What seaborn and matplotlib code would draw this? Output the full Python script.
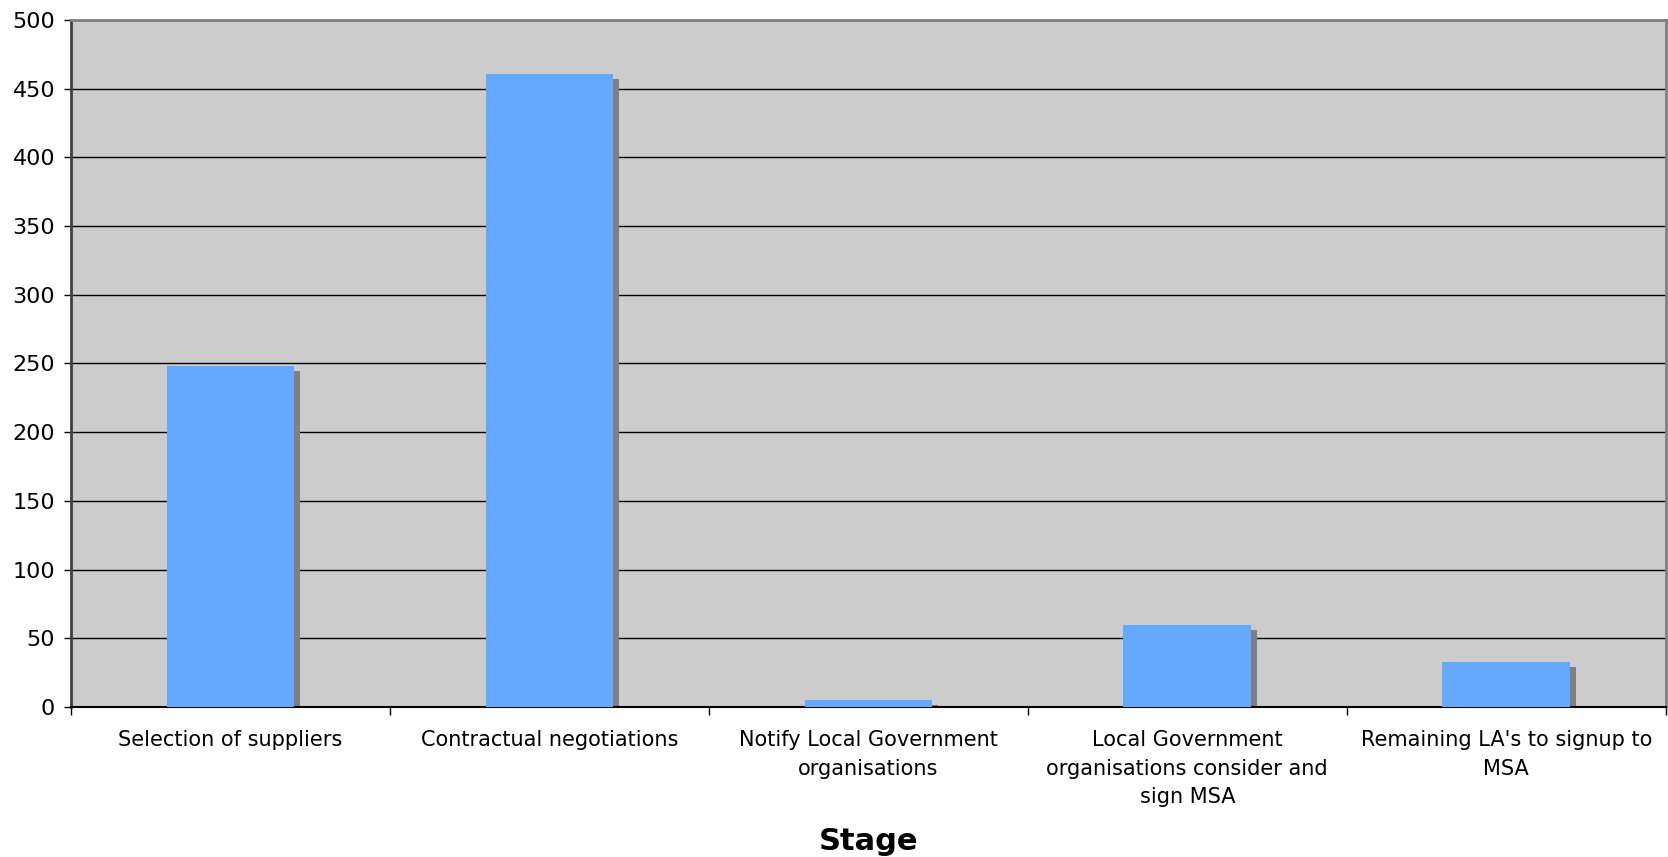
import pandas as pd
import seaborn as sns
import matplotlib
import matplotlib.pyplot as plt
import matplotlib.transforms as mtransforms
from matplotlib.ticker import FixedLocator
matplotlib.use('Agg')

stages = ['Selection of suppliers', 'Contractual negotiations',
          'Notify Local Government\norganisations',
          'Local Government\norganisations consider and\nsign MSA',
          "Remaining LA's to signup to\nMSA"]
days = [248, 461, 5, 60, 33]

df = pd.DataFrame({'Stage': stages, 'Days': days})

sns.set_style('white')
plt.rcParams['font.family'] = ['DejaVu Sans']
plt.rcParams['text.color'] = 'black'
plt.rcParams['xtick.color'] = 'black'
plt.rcParams['ytick.color'] = 'black'
plt.rcParams['axes.labelcolor'] = 'black'

fig = plt.figure(figsize=(16.68, 8.57), dpi=100)
ax = fig.add_axes([0.0426, 0.175, 0.956, 0.8017])
ax.set_facecolor('#CCCCCC')

# shadow bars, shifted a few pixels right/down
sns.barplot(data=df, x='Stage', y='Days', color='#808080', saturation=1,
            width=0.4, ax=ax, zorder=2)
shift = mtransforms.ScaledTranslation(6 / 100, -5 / 100, fig.dpi_scale_trans)
for p in ax.patches:
    p.set_transform(ax.transData + shift)
    p.set_edgecolor('none')

sns.barplot(data=df, x='Stage', y='Days', color='#63A9FF', saturation=1,
            width=0.4, ax=ax, zorder=3)
for p in ax.patches[len(days):]:
    p.set_edgecolor('none')

ax.set_ylim(0, 500)
ax.set_xlim(-0.5, len(days) - 0.5)
ax.set_yticks(range(0, 501, 50))
ax.yaxis.grid(True, color='black', linewidth=1)
ax.set_axisbelow(True)

ax.xaxis.set_minor_locator(FixedLocator([i + 0.5 for i in range(-1, len(days))]))
ax.tick_params(axis='x', which='major', length=0, pad=16.5, labelsize=15)
ax.tick_params(axis='x', which='minor', length=6, width=1, color='black', bottom=True)
ax.tick_params(axis='y', length=5, width=1, color='black', pad=6.5, labelsize=16, left=True)
for lbl in ax.get_xticklabels():
    lbl.set_linespacing(1.54)

ax.set_ylabel('')
ax.set_xlabel('Stage', fontsize=22, fontweight='bold', labelpad=14.5)

ax.spines['left'].set_color('#404040')
ax.spines['left'].set_linewidth(2)
ax.spines['top'].set_color('#808080')
ax.spines['top'].set_linewidth(2)
ax.spines['right'].set_color('#808080')
ax.spines['right'].set_linewidth(2)
ax.spines['bottom'].set_color('black')
ax.spines['bottom'].set_linewidth(1.5)

plt.savefig('out.png', dpi=100)
